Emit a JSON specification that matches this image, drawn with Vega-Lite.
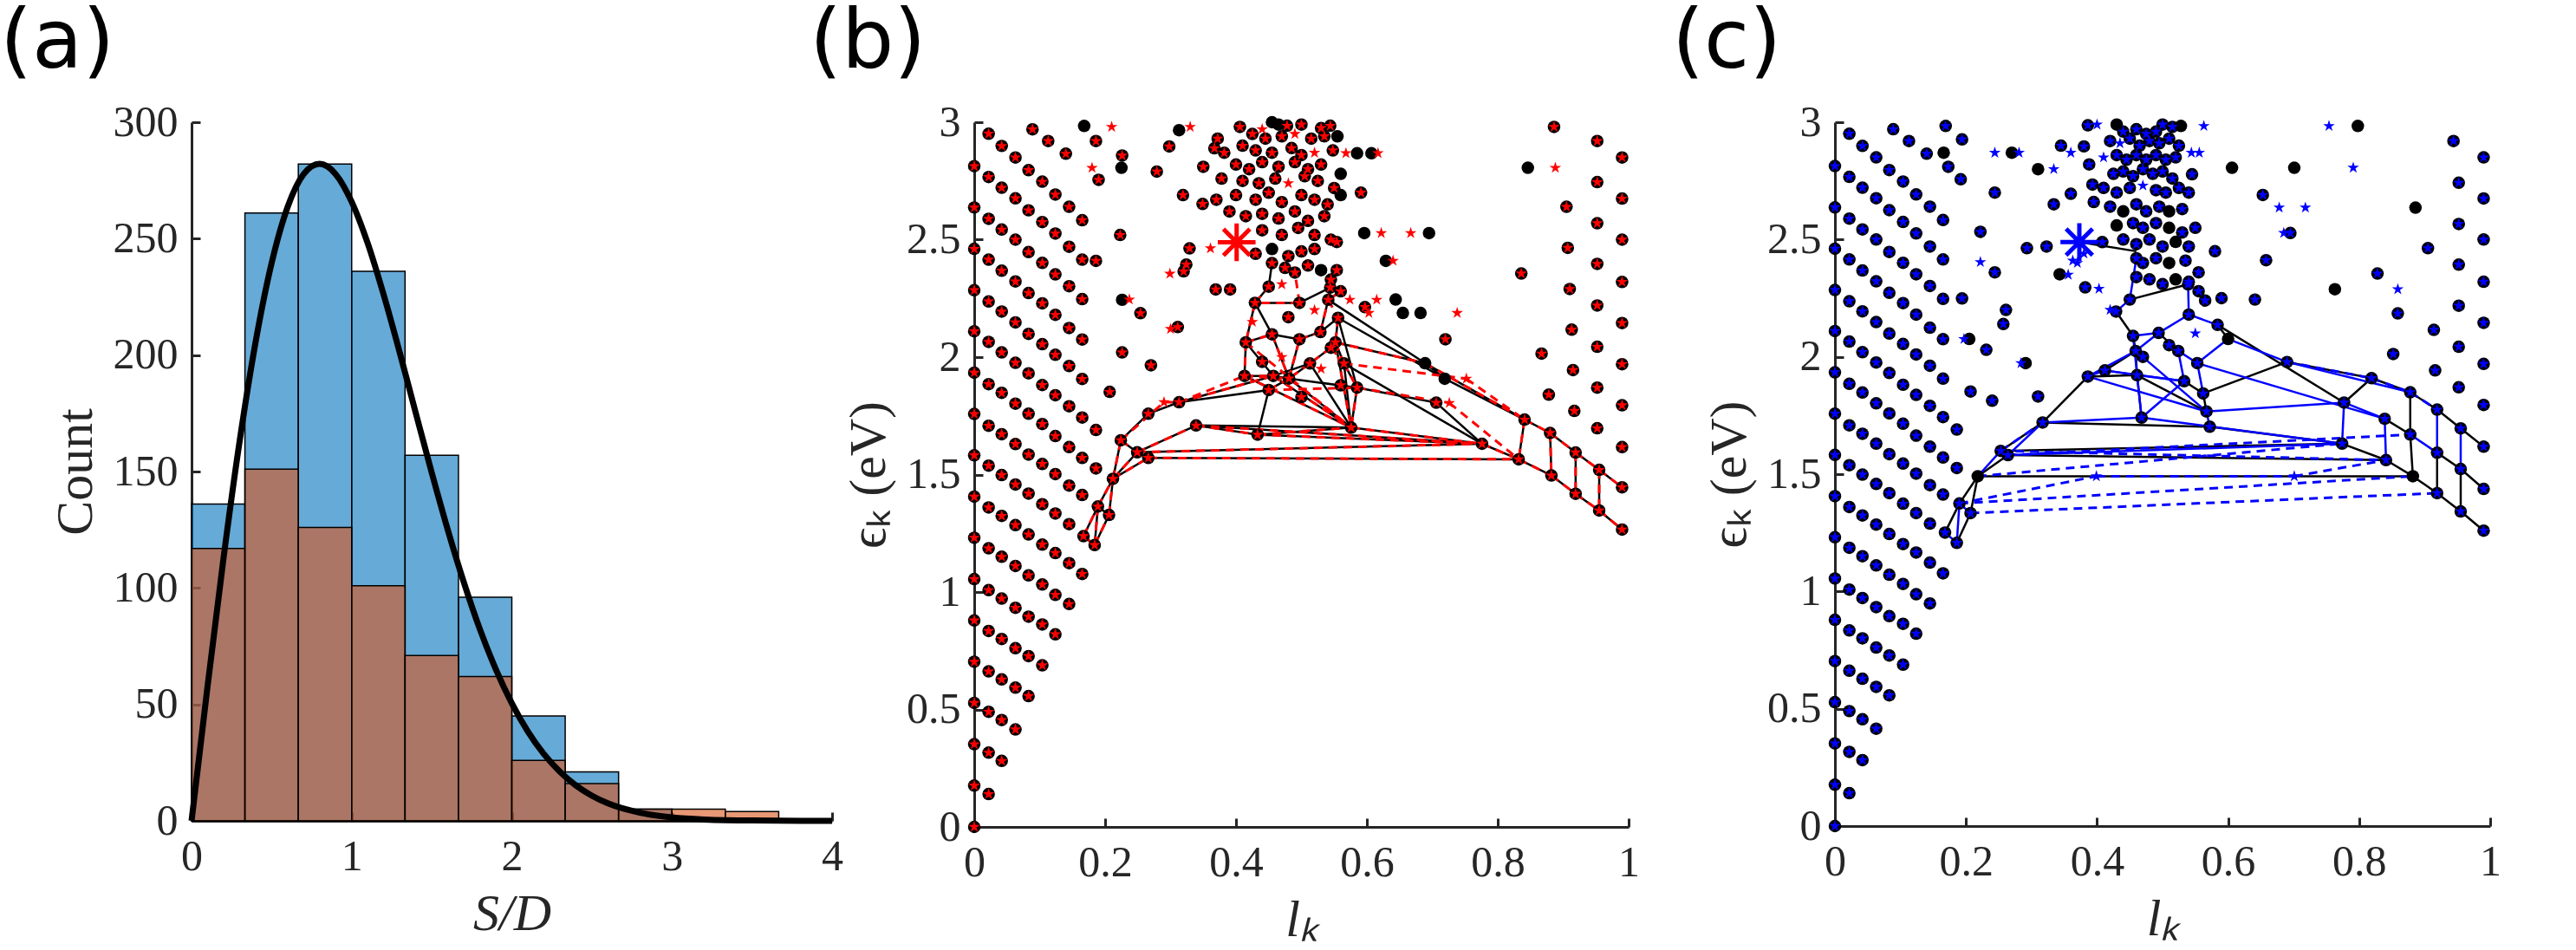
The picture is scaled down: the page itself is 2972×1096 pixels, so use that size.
{
"$schema": "https://vega.github.io/schema/vega-lite/v6.json",
"autosize": {"type": "pad"},
"padding": {"left": 0, "top": 2, "right": 0, "bottom": 0},
"spacing": -40,
"config": {
 "view": {"stroke": null},
 "axis": {"grid": false, "domainColor": "#262626", "domainWidth": 3, "tickColor": "#262626", "tickWidth": 3, "tickSize": -10, "labelPadding": 26, "labelFlush": false, "labelOverlap": false, "labelFont": "Liberation Serif", "labelFontSize": 50, "labelColor": "#262626", "titleFont": "Liberation Serif", "titleFontSize": 60, "titleFontWeight": "normal", "titleColor": "#262626", "titlePadding": 12},
 "title": {"font": "DejaVu Sans", "fontSize": 95, "fontWeight": "normal", "anchor": "start", "frame": "group", "color": "#000000", "offset": 18}
},
"datasets": {
 "hist": [
  {"lo":0,"hi":0.3333,"v":136,"g":"b"},{"lo":0.3333,"hi":0.6667,"v":261,"g":"b"},{"lo":0.6667,"hi":1,"v":282,"g":"b"},{"lo":1,"hi":1.3333,"v":236,"g":"b"},{"lo":1.3333,"hi":1.6667,"v":157,"g":"b"},{"lo":1.6667,"hi":2,"v":96,"g":"b"},{"lo":2,"hi":2.3333,"v":45,"g":"b"},{"lo":2.3333,"hi":2.6667,"v":21,"g":"b"},{"lo":2.6667,"hi":3,"v":5,"g":"b"},
  {"lo":0,"hi":0.3333,"v":117,"g":"o"},{"lo":0.3333,"hi":0.6667,"v":151,"g":"o"},{"lo":0.6667,"hi":1,"v":126,"g":"o"},{"lo":1,"hi":1.3333,"v":101,"g":"o"},{"lo":1.3333,"hi":1.6667,"v":71,"g":"o"},{"lo":1.6667,"hi":2,"v":62,"g":"o"},{"lo":2,"hi":2.3333,"v":26,"g":"o"},{"lo":2.3333,"hi":2.6667,"v":16,"g":"o"},{"lo":2.6667,"hi":3,"v":5,"g":"o"},{"lo":3,"hi":3.3333,"v":5,"g":"o"},{"lo":3.3333,"hi":3.6667,"v":4,"g":"o"}
 ],
 "curve": [
  {"lo":0,"v":0},{"lo":0.1,"v":57.8},{"lo":0.2,"v":113},{"lo":0.3,"v":162.9},{"lo":0.4,"v":205.6},{"lo":0.5,"v":239.5},{"lo":0.6,"v":263.6},{"lo":0.7,"v":277.7},{"lo":0.8,"v":282.1},{"lo":0.9,"v":277.7},{"lo":1.0,"v":265.8},{"lo":1.1,"v":248},{"lo":1.2,"v":225.8},{"lo":1.3,"v":201.1},{"lo":1.4,"v":175.2},{"lo":1.5,"v":149.5},{"lo":1.6,"v":125},{"lo":1.7,"v":102.5},{"lo":1.8,"v":82.4},{"lo":1.9,"v":65.1},{"lo":2.0,"v":50.5},{"lo":2.1,"v":38.4},{"lo":2.2,"v":28.7},{"lo":2.3,"v":21.1},{"lo":2.4,"v":15.2},{"lo":2.5,"v":10.8},{"lo":2.6,"v":7.5},{"lo":2.8,"v":3.5},{"lo":3.0,"v":1.5},{"lo":3.2,"v":0.6},{"lo":3.5,"v":0.14},{"lo":4.0,"v":0}
 ],
 "lattice": [
  {"l":0,"e":0},{"l":0,"e":0.176},{"l":0,"e":0.352},{"l":0,"e":0.528},{"l":0,"e":0.703},{"l":0,"e":0.879},{"l":0,"e":1.055},{"l":0,"e":1.231},{"l":0,"e":1.406},{"l":0,"e":1.582},{"l":0,"e":1.758},{"l":0,"e":1.934},{"l":0,"e":2.11},{"l":0,"e":2.285},{"l":0,"e":2.461},{"l":0,"e":2.637},{"l":0,"e":2.813},
  {"l":0.022,"e":0.14},
  {"l":0.022,"e":0.316},{"l":0.042,"e":0.281},
  {"l":0.022,"e":0.49},{"l":0.042,"e":0.455},{"l":0.063,"e":0.415},
  {"l":0.022,"e":0.662},{"l":0.042,"e":0.628},{"l":0.063,"e":0.593},{"l":0.083,"e":0.557},
  {"l":0.022,"e":0.834},{"l":0.042,"e":0.8},{"l":0.063,"e":0.761},{"l":0.083,"e":0.727},{"l":0.104,"e":0.688},
  {"l":0.022,"e":1.008},{"l":0.042,"e":0.972},{"l":0.063,"e":0.933},{"l":0.083,"e":0.895},{"l":0.104,"e":0.862},{"l":0.124,"e":0.82},
  {"l":0.022,"e":1.186},{"l":0.042,"e":1.15},{"l":0.063,"e":1.111},{"l":0.083,"e":1.071},{"l":0.104,"e":1.032},{"l":0.124,"e":0.988},{"l":0.145,"e":0.949},
  {"l":0.022,"e":1.36},{"l":0.042,"e":1.324},{"l":0.063,"e":1.285},{"l":0.083,"e":1.245},{"l":0.104,"e":1.202},{"l":0.124,"e":1.166},{"l":0.145,"e":1.123},{"l":0.165,"e":1.077},
  {"l":0.022,"e":1.538},{"l":0.042,"e":1.498},{"l":0.063,"e":1.458},{"l":0.083,"e":1.419},{"l":0.104,"e":1.374},{"l":0.124,"e":1.334},{"l":0.145,"e":1.289},
  {"l":0.022,"e":1.708},{"l":0.042,"e":1.672},{"l":0.063,"e":1.63},{"l":0.083,"e":1.585},{"l":0.104,"e":1.545},{"l":0.124,"e":1.502},{"l":0.145,"e":1.453},{"l":0.165,"e":1.413},
  {"l":0.022,"e":1.885},{"l":0.042,"e":1.848},{"l":0.063,"e":1.802},{"l":0.083,"e":1.759},{"l":0.104,"e":1.715},{"l":0.124,"e":1.664},{"l":0.145,"e":1.617},{"l":0.165,"e":1.571},{"l":0.186,"e":1.526},
  {"l":0.022,"e":2.065},{"l":0.042,"e":2.02},{"l":0.063,"e":1.976},{"l":0.083,"e":1.931},{"l":0.104,"e":1.881},{"l":0.124,"e":1.838},{"l":0.145,"e":1.791},{"l":0.165,"e":1.743},{"l":0.186,"e":1.69},
  {"l":0.022,"e":2.237},{"l":0.042,"e":2.194},{"l":0.063,"e":2.148},{"l":0.083,"e":2.099},{"l":0.104,"e":2.055},{"l":0.124,"e":2.01},{"l":0.145,"e":1.962},{"l":0.165,"e":1.907},{"l":0.207,"e":1.852},
  {"l":0.022,"e":2.415},{"l":0.042,"e":2.368},{"l":0.063,"e":2.322},{"l":0.083,"e":2.273},{"l":0.104,"e":2.229},{"l":0.124,"e":2.18},{"l":0.145,"e":2.124},{"l":0.165,"e":2.075},
  {"l":0.022,"e":2.589},{"l":0.042,"e":2.543},{"l":0.063,"e":2.5},{"l":0.083,"e":2.447},{"l":0.104,"e":2.401},{"l":0.124,"e":2.352},{"l":0.145,"e":2.302},{"l":0.165,"e":2.247},
  {"l":0.022,"e":2.767},{"l":0.042,"e":2.721},{"l":0.063,"e":2.676},{"l":0.083,"e":2.625},{"l":0.104,"e":2.575},{"l":0.124,"e":2.526},{"l":0.145,"e":2.47},{"l":0.165,"e":2.415},
  {"l":0.022,"e":2.951},{"l":0.042,"e":2.899},{"l":0.063,"e":2.85},{"l":0.083,"e":2.796},{"l":0.104,"e":2.747},{"l":0.124,"e":2.692},{"l":0.145,"e":2.64},{"l":0.165,"e":2.583},
  {"l":0.089,"e":2.97},{"l":0.113,"e":2.92},{"l":0.14,"e":2.866}
 ],
 "ptsB": [
  {"l":0.167,"e":1.238,"t":"b"},{"l":0.184,"e":1.2,"t":"b"},{"l":0.189,"e":1.364,"t":"b"},{"l":0.206,"e":1.328,"t":"b"},{"l":0.212,"e":1.482,"t":"b"},{"l":0.224,"e":1.646,"t":"b"},{"l":0.249,"e":1.595,"t":"b"},{"l":0.266,"e":1.571,"t":"b"},{"l":0.266,"e":1.759,"t":"b"},{"l":0.29,"e":1.808,"t":"s"},{"l":0.313,"e":1.808,"t":"b"},{"l":0.339,"e":1.709,"t":"b"},{"l":0.433,"e":1.67,"t":"b"},{"l":0.45,"e":1.86,"t":"b"},{"l":0.576,"e":1.7,"t":"b"},{"l":0.776,"e":1.631,"t":"b"},{"l":0.832,"e":1.565,"t":"b"},{"l":0.841,"e":1.734,"t":"b"},{"l":0.88,"e":1.677,"t":"b"},{"l":0.882,"e":1.496,"t":"b"},{"l":0.919,"e":1.594,"t":"b"},{"l":0.919,"e":1.418,"t":"b"},{"l":0.955,"e":1.52,"t":"b"},{"l":0.955,"e":1.347,"t":"b"},{"l":0.99,"e":1.446,"t":"b"},{"l":0.99,"e":1.266,"t":"b"},
  {"l":0.429,"e":2.231,"t":"b"},{"l":0.415,"e":2.063,"t":"b"},{"l":0.413,"e":1.92,"t":"b"},{"l":0.455,"e":2.097,"t":"b"},{"l":0.457,"e":1.92,"t":"b"},{"l":0.481,"e":1.909,"t":"b"},{"l":0.497,"e":2.076,"t":"b"},{"l":0.529,"e":2.107,"t":"b"},{"l":0.541,"e":2.244,"t":"b"},{"l":0.544,"e":2.296,"t":"b"},{"l":0.556,"e":2.167,"t":"b"},{"l":0.552,"e":2.063,"t":"b"},{"l":0.565,"e":1.973,"t":"b"},{"l":0.585,"e":1.87,"t":"b"},{"l":0.545,"e":2.04,"t":"b"},{"l":0.513,"e":1.973,"t":"b"},{"l":0.497,"e":2.231,"t":"b"},{"l":0.689,"e":1.974,"t":"d"},{"l":0.719,"e":1.908,"t":"d"},{"l":0.706,"e":1.806,"t":"b"},{"l":0.752,"e":1.908,"t":"s"},{"l":0.726,"e":1.805,"t":"s"},
  {"l":0.44,"e":1.98,"t":"b"},{"l":0.53,"e":1.95,"t":"s"},{"l":0.56,"e":1.88,"t":"b"},{"l":0.5,"e":1.83,"t":"b"},{"l":0.47,"e":2.0,"t":"s"},{"l":0.425,"e":2.15,"t":"s"},{"l":0.52,"e":2.2,"t":"s"},{"l":0.48,"e":2.17,"t":"b"},
  {"l":0.99,"e":2.85,"t":"b"},{"l":0.99,"e":2.675,"t":"b"},{"l":0.99,"e":2.5,"t":"b"},{"l":0.99,"e":2.32,"t":"b"},{"l":0.99,"e":2.145,"t":"b"},{"l":0.99,"e":1.97,"t":"b"},{"l":0.99,"e":1.795,"t":"b"},{"l":0.99,"e":1.617,"t":"b"},
  {"l":0.952,"e":2.92,"t":"b"},{"l":0.952,"e":2.745,"t":"b"},{"l":0.952,"e":2.57,"t":"b"},{"l":0.952,"e":2.397,"t":"b"},{"l":0.952,"e":2.22,"t":"b"},{"l":0.952,"e":2.044,"t":"b"},{"l":0.952,"e":1.87,"t":"b"},{"l":0.952,"e":1.697,"t":"b"},
  {"l":0.905,"e":2.64,"t":"b"},{"l":0.907,"e":2.465,"t":"b"},{"l":0.91,"e":2.29,"t":"b"},{"l":0.913,"e":2.117,"t":"b"},{"l":0.915,"e":1.945,"t":"b"},{"l":0.917,"e":1.771,"t":"b"},
  {"l":0.867,"e":2.015,"t":"b"},{"l":0.878,"e":1.84,"t":"b"},{"l":0.886,"e":2.98,"t":"b"},{"l":0.846,"e":2.806,"t":"d"},{"l":0.888,"e":2.806,"t":"s"},{"l":0.836,"e":2.356,"t":"b"},
  {"l":0.168,"e":2.984,"t":"d"},{"l":0.186,"e":2.92,"t":"b"},{"l":0.21,"e":2.98,"t":"s"},{"l":0.18,"e":2.806,"t":"s"},{"l":0.19,"e":2.755,"t":"b"},{"l":0.226,"e":2.858,"t":"b"},{"l":0.225,"e":2.806,"t":"d"},{"l":0.223,"e":2.52,"t":"b"},{"l":0.186,"e":2.41,"t":"b"},{"l":0.226,"e":2.244,"t":"d"},{"l":0.237,"e":2.245,"t":"s"},{"l":0.254,"e":2.187,"t":"b"},{"l":0.226,"e":2.02,"t":"b"},{"l":0.27,"e":1.965,"t":"b"},{"l":0.311,"e":2.128,"t":"b"},{"l":0.3,"e":2.12,"t":"s"},{"l":0.32,"e":2.365,"t":"b"},{"l":0.299,"e":2.355,"t":"s"},{"l":0.324,"e":2.394,"t":"b"},{"l":0.279,"e":2.79,"t":"b"},{"l":0.319,"e":2.69,"t":"b"},{"l":0.298,"e":2.897,"t":"b"},{"l":0.313,"e":2.966,"t":"d"},{"l":0.33,"e":2.98,"t":"s"},{"l":0.361,"e":2.463,"t":"s"},{"l":0.329,"e":2.463,"t":"b"},{"l":0.349,"e":2.652,"t":"b"},{"l":0.367,"e":2.889,"t":"b"},{"l":0.369,"e":2.288,"t":"b"},{"l":0.391,"e":2.288,"t":"b"},
  {"l":0.568,"e":2.868,"t":"s"},{"l":0.585,"e":2.868,"t":"d"},{"l":0.607,"e":2.868,"t":"d"},{"l":0.617,"e":2.868,"t":"s"},{"l":0.591,"e":2.7,"t":"b"},{"l":0.596,"e":2.528,"t":"d"},{"l":0.622,"e":2.528,"t":"s"},{"l":0.667,"e":2.528,"t":"s"},{"l":0.695,"e":2.528,"t":"d"},{"l":0.629,"e":2.41,"t":"d"},{"l":0.64,"e":2.41,"t":"s"},{"l":0.644,"e":2.245,"t":"d"},{"l":0.655,"e":2.188,"t":"d"},{"l":0.682,"e":2.188,"t":"d"},{"l":0.615,"e":2.244,"t":"s"},{"l":0.574,"e":2.244,"t":"s"},{"l":0.597,"e":2.213,"t":"b"},{"l":0.603,"e":2.188,"t":"s"},{"l":0.738,"e":2.188,"t":"s"},{"l":0.72,"e":2.076,"t":"b"},{"l":0.554,"e":2.49,"t":"b"},{"l":0.554,"e":2.37,"t":"b"},
  {"l":0.45,"e":2.3,"t":"b"},{"l":0.455,"e":2.4,"t":"b"},{"l":0.545,"e":2.33,"t":"b"},{"l":0.49,"e":2.36,"t":"b"},{"l":0.56,"e":2.28,"t":"b"},
  {"l":0.406,"e":2.98,"t":"b"},{"l":0.44,"e":2.97,"t":"s"},{"l":0.455,"e":3.0,"t":"d"},{"l":0.465,"e":2.99,"t":"d"},{"l":0.478,"e":2.985,"t":"b"},{"l":0.5,"e":2.99,"t":"b"},{"l":0.53,"e":2.975,"t":"b"},{"l":0.544,"e":2.985,"t":"b"},
  {"l":0.372,"e":2.93,"t":"b"},{"l":0.425,"e":2.95,"t":"b"},{"l":0.445,"e":2.93,"t":"b"},{"l":0.47,"e":2.94,"t":"b"},{"l":0.49,"e":2.95,"t":"s"},{"l":0.515,"e":2.93,"t":"b"},{"l":0.535,"e":2.94,"t":"b"},{"l":0.555,"e":2.94,"t":"d"},
  {"l":0.382,"e":2.87,"t":"b"},{"l":0.41,"e":2.9,"t":"b"},{"l":0.43,"e":2.88,"t":"b"},{"l":0.455,"e":2.87,"t":"b"},{"l":0.485,"e":2.89,"t":"b"},{"l":0.5,"e":2.86,"t":"b"},{"l":0.52,"e":2.87,"t":"s"},{"l":0.548,"e":2.88,"t":"b"},
  {"l":0.35,"e":2.81,"t":"b"},{"l":0.4,"e":2.82,"t":"b"},{"l":0.42,"e":2.8,"t":"b"},{"l":0.44,"e":2.83,"t":"b"},{"l":0.465,"e":2.81,"t":"b"},{"l":0.49,"e":2.83,"t":"b"},{"l":0.51,"e":2.8,"t":"b"},{"l":0.53,"e":2.82,"t":"b"},{"l":0.56,"e":2.78,"t":"d"},
  {"l":0.378,"e":2.76,"t":"b"},{"l":0.41,"e":2.75,"t":"b"},{"l":0.435,"e":2.74,"t":"b"},{"l":0.46,"e":2.76,"t":"b"},{"l":0.48,"e":2.74,"t":"s"},{"l":0.505,"e":2.77,"t":"b"},{"l":0.525,"e":2.75,"t":"b"},{"l":0.55,"e":2.72,"t":"b"},
  {"l":0.37,"e":2.67,"t":"b"},{"l":0.4,"e":2.69,"t":"b"},{"l":0.43,"e":2.67,"t":"b"},{"l":0.45,"e":2.7,"t":"b"},{"l":0.47,"e":2.66,"t":"b"},{"l":0.5,"e":2.69,"t":"b"},{"l":0.52,"e":2.67,"t":"b"},{"l":0.54,"e":2.65,"t":"b"},{"l":0.56,"e":2.69,"t":"d"},
  {"l":0.39,"e":2.62,"t":"b"},{"l":0.415,"e":2.6,"t":"b"},{"l":0.44,"e":2.61,"t":"b"},{"l":0.465,"e":2.59,"t":"b"},{"l":0.49,"e":2.62,"t":"b"},{"l":0.51,"e":2.58,"t":"b"},{"l":0.535,"e":2.6,"t":"b"},
  {"l":0.44,"e":2.54,"t":"b"},{"l":0.47,"e":2.52,"t":"b"},{"l":0.495,"e":2.55,"t":"b"},{"l":0.52,"e":2.52,"t":"b"},{"l":0.545,"e":2.5,"t":"b"},
  {"l":0.43,"e":2.44,"t":"b"},{"l":0.455,"e":2.46,"t":"d"},{"l":0.48,"e":2.43,"t":"b"},{"l":0.5,"e":2.45,"t":"b"},{"l":0.52,"e":2.46,"t":"b"},
  {"l":0.475,"e":2.38,"t":"b"},{"l":0.51,"e":2.39,"t":"b"},{"l":0.53,"e":2.37,"t":"d"},{"l":0.47,"e":2.31,"t":"s"},
  {"l":0.401,"e":2.489,"t":"a"}
 ],
 "edgesB": [
  {"l":0.167,"e":1.238,"l2":0.184,"e2":1.2,"k":"x"},{"l":0.167,"e":1.238,"l2":0.189,"e2":1.364,"k":"x"},{"l":0.184,"e":1.2,"l2":0.189,"e2":1.364,"k":"x"},{"l":0.184,"e":1.2,"l2":0.206,"e2":1.328,"k":"x"},{"l":0.189,"e":1.364,"l2":0.206,"e2":1.328,"k":"k"},{"l":0.189,"e":1.364,"l2":0.212,"e2":1.482,"k":"x"},{"l":0.206,"e":1.328,"l2":0.212,"e2":1.482,"k":"x"},{"l":0.212,"e":1.482,"l2":0.224,"e2":1.646,"k":"x"},{"l":0.212,"e":1.482,"l2":0.249,"e2":1.595,"k":"x"},{"l":0.212,"e":1.482,"l2":0.266,"e2":1.571,"k":"x"},{"l":0.224,"e":1.646,"l2":0.249,"e2":1.595,"k":"x"},{"l":0.224,"e":1.646,"l2":0.266,"e2":1.759,"k":"k"},{"l":0.266,"e":1.759,"l2":0.313,"e2":1.808,"k":"k"},{"l":0.224,"e":1.646,"l2":0.29,"e2":1.808,"k":"r"},{"l":0.29,"e":1.808,"l2":0.313,"e2":1.808,"k":"r"},{"l":0.249,"e":1.595,"l2":0.339,"e2":1.709,"k":"x"},{"l":0.266,"e":1.571,"l2":0.832,"e2":1.565,"k":"x"},{"l":0.249,"e":1.595,"l2":0.776,"e2":1.631,"k":"x"},{"l":0.339,"e":1.709,"l2":0.776,"e2":1.631,"k":"x"},{"l":0.433,"e":1.67,"l2":0.776,"e2":1.631,"k":"x"},{"l":0.339,"e":1.709,"l2":0.576,"e2":1.7,"k":"k"},{"l":0.313,"e":1.808,"l2":0.457,"e2":1.92,"k":"x"},{"l":0.313,"e":1.808,"l2":0.413,"e2":1.92,"k":"r"},{"l":0.433,"e":1.67,"l2":0.45,"e2":1.86,"k":"k"},{"l":0.45,"e":1.86,"l2":0.481,"e2":1.909,"k":"x"},
  {"l":0.413,"e":1.92,"l2":0.576,"e2":1.7,"k":"x"},{"l":0.457,"e":1.92,"l2":0.576,"e2":1.7,"k":"x"},{"l":0.481,"e":1.909,"l2":0.576,"e2":1.7,"k":"x"},{"l":0.513,"e":1.973,"l2":0.576,"e2":1.7,"k":"k"},{"l":0.552,"e":2.063,"l2":0.576,"e2":1.7,"k":"x"},{"l":0.415,"e":2.063,"l2":0.576,"e2":1.7,"k":"r"},{"l":0.585,"e":1.87,"l2":0.576,"e2":1.7,"k":"x"},{"l":0.565,"e":1.973,"l2":0.576,"e2":1.7,"k":"k"},{"l":0.576,"e":1.7,"l2":0.776,"e2":1.631,"k":"x"},
  {"l":0.429,"e":2.231,"l2":0.415,"e2":2.063,"k":"x"},{"l":0.429,"e":2.231,"l2":0.455,"e2":2.097,"k":"k"},{"l":0.415,"e":2.063,"l2":0.413,"e2":1.92,"k":"x"},{"l":0.415,"e":2.063,"l2":0.457,"e2":1.92,"k":"k"},{"l":0.413,"e":1.92,"l2":0.457,"e2":1.92,"k":"x"},{"l":0.455,"e":2.097,"l2":0.481,"e2":1.909,"k":"x"},{"l":0.455,"e":2.097,"l2":0.497,"e2":2.076,"k":"k"},{"l":0.457,"e":1.92,"l2":0.481,"e2":1.909,"k":"k"},{"l":0.481,"e":1.909,"l2":0.497,"e2":2.076,"k":"x"},{"l":0.497,"e":2.076,"l2":0.529,"e2":2.107,"k":"x"},{"l":0.529,"e":2.107,"l2":0.541,"e2":2.244,"k":"x"},{"l":0.541,"e":2.244,"l2":0.544,"e2":2.296,"k":"x"},{"l":0.529,"e":2.107,"l2":0.556,"e2":2.167,"k":"k"},{"l":0.556,"e":2.167,"l2":0.552,"e2":2.063,"k":"x"},{"l":0.552,"e":2.063,"l2":0.565,"e2":1.973,"k":"x"},{"l":0.565,"e":1.973,"l2":0.585,"e2":1.87,"k":"x"},{"l":0.545,"e":2.04,"l2":0.513,"e2":1.973,"k":"x"},{"l":0.513,"e":1.973,"l2":0.457,"e2":1.92,"k":"k"},{"l":0.415,"e":2.063,"l2":0.455,"e2":2.097,"k":"x"},{"l":0.544,"e":2.296,"l2":0.497,"e2":2.231,"k":"k"},{"l":0.497,"e":2.231,"l2":0.429,"e2":2.231,"k":"x"},{"l":0.545,"e":2.04,"l2":0.565,"e2":1.973,"k":"r"},{"l":0.556,"e":2.167,"l2":0.585,"e2":1.87,"k":"k"},{"l":0.513,"e":1.973,"l2":0.481,"e2":1.909,"k":"x"},{"l":0.541,"e":2.244,"l2":0.556,"e2":2.167,"k":"r"},{"l":0.552,"e":2.063,"l2":0.545,"e2":2.04,"k":"x"},
  {"l":0.544,"e":2.296,"l2":0.545,"e2":2.33,"k":"k"},{"l":0.429,"e":2.231,"l2":0.45,"e2":2.3,"k":"x"},{"l":0.45,"e":2.3,"l2":0.455,"e2":2.4,"k":"k"},{"l":0.497,"e":2.231,"l2":0.49,"e2":2.36,"k":"r"},{"l":0.541,"e":2.244,"l2":0.56,"e2":2.28,"k":"x"},
  {"l":0.541,"e":2.244,"l2":0.689,"e2":1.974,"k":"k"},{"l":0.689,"e":1.974,"l2":0.841,"e2":1.734,"k":"x"},{"l":0.719,"e":1.908,"l2":0.841,"e2":1.734,"k":"k"},{"l":0.752,"e":1.908,"l2":0.841,"e2":1.734,"k":"r"},{"l":0.556,"e":2.167,"l2":0.719,"e2":1.908,"k":"k"},{"l":0.565,"e":1.973,"l2":0.752,"e2":1.908,"k":"r"},{"l":0.585,"e":1.87,"l2":0.706,"e2":1.806,"k":"k"},{"l":0.585,"e":1.87,"l2":0.726,"e2":1.805,"k":"r"},{"l":0.706,"e":1.806,"l2":0.776,"e2":1.631,"k":"k"},{"l":0.726,"e":1.805,"l2":0.832,"e2":1.565,"k":"r"},{"l":0.689,"e":1.974,"l2":0.719,"e2":1.908,"k":"k"},
  {"l":0.776,"e":1.631,"l2":0.832,"e2":1.565,"k":"x"},{"l":0.841,"e":1.734,"l2":0.832,"e2":1.565,"k":"x"},{"l":0.841,"e":1.734,"l2":0.88,"e2":1.677,"k":"x"},{"l":0.88,"e":1.677,"l2":0.919,"e2":1.594,"k":"x"},{"l":0.919,"e":1.594,"l2":0.955,"e2":1.52,"k":"x"},{"l":0.955,"e":1.52,"l2":0.99,"e2":1.446,"k":"x"},{"l":0.832,"e":1.565,"l2":0.882,"e2":1.496,"k":"x"},{"l":0.882,"e":1.496,"l2":0.919,"e2":1.418,"k":"x"},{"l":0.919,"e":1.418,"l2":0.955,"e2":1.347,"k":"x"},{"l":0.955,"e":1.347,"l2":0.99,"e2":1.266,"k":"x"},{"l":0.88,"e":1.677,"l2":0.882,"e2":1.496,"k":"x"},{"l":0.919,"e":1.594,"l2":0.919,"e2":1.418,"k":"x"},{"l":0.955,"e":1.52,"l2":0.955,"e2":1.347,"k":"x"},
  {"l":0.339,"e":1.709,"l2":0.433,"e2":1.67,"k":"x"},{"l":0.433,"e":1.67,"l2":0.576,"e2":1.7,"k":"x"},{"l":0.249,"e":1.595,"l2":0.266,"e2":1.571,"k":"x"},{"l":0.45,"e":1.86,"l2":0.585,"e2":1.87,"k":"r"},{"l":0.481,"e":1.909,"l2":0.585,"e2":1.87,"k":"k"},{"l":0.413,"e":1.92,"l2":0.481,"e2":1.909,"k":"r"},{"l":0.313,"e":1.808,"l2":0.45,"e2":1.86,"k":"k"},{"l":0.552,"e":2.063,"l2":0.689,"e2":1.974,"k":"x"},{"l":0.565,"e":1.973,"l2":0.776,"e2":1.631,"k":"k"}
 ],
 "ptsC": [
  {"l":0.168,"e":1.251,"t":"b"},{"l":0.186,"e":1.207,"t":"b"},{"l":0.19,"e":1.375,"t":"b"},{"l":0.207,"e":1.334,"t":"b"},{"l":0.218,"e":1.491,"t":"d"},{"l":0.253,"e":1.599,"t":"b"},{"l":0.264,"e":1.581,"t":"b"},{"l":0.317,"e":1.72,"t":"b"},{"l":0.468,"e":1.741,"t":"b"},{"l":0.572,"e":1.702,"t":"b"},{"l":0.774,"e":1.63,"t":"b"},{"l":0.841,"e":1.56,"t":"b"},{"l":0.882,"e":1.491,"t":"d"},{"l":0.839,"e":1.736,"t":"b"},{"l":0.819,"e":1.909,"t":"b"},{"l":0.777,"e":1.805,"t":"b"},{"l":0.69,"e":1.978,"t":"b"},{"l":0.878,"e":1.849,"t":"b"},{"l":0.878,"e":1.669,"t":"b"},{"l":0.919,"e":1.775,"t":"b"},{"l":0.919,"e":1.591,"t":"b"},{"l":0.919,"e":1.419,"t":"b"},{"l":0.955,"e":1.695,"t":"b"},{"l":0.955,"e":1.522,"t":"b"},{"l":0.955,"e":1.341,"t":"b"},{"l":0.99,"e":1.617,"t":"b"},{"l":0.99,"e":1.437,"t":"b"},{"l":0.99,"e":1.259,"t":"b"},{"l":0.399,"e":1.491,"t":"s"},{"l":0.701,"e":1.491,"t":"s"},
  {"l":0.386,"e":1.916,"t":"b"},{"l":0.412,"e":1.942,"t":"b"},{"l":0.459,"e":2.025,"t":"b"},{"l":0.461,"e":1.922,"t":"b"},{"l":0.494,"e":2.102,"t":"b"},{"l":0.524,"e":2.025,"t":"b"},{"l":0.54,"e":2.18,"t":"b"},{"l":0.533,"e":1.896,"t":"b"},{"l":0.553,"e":1.973,"t":"b"},{"l":0.562,"e":1.844,"t":"b"},{"l":0.567,"e":1.767,"t":"b"},{"l":0.584,"e":2.136,"t":"b"},{"l":0.6,"e":2.076,"t":"d"},{"l":0.429,"e":2.193,"t":"b"},{"l":0.455,"e":2.089,"t":"b"},{"l":0.45,"e":2.244,"t":"b"},{"l":0.539,"e":2.309,"t":"b"},{"l":0.42,"e":2.2,"t":"s"},{"l":0.51,"e":2.05,"t":"b"},{"l":0.55,"e":2.1,"t":"s"},{"l":0.47,"e":2.0,"t":"b"},
  {"l":0.99,"e":2.85,"t":"b"},{"l":0.99,"e":2.675,"t":"b"},{"l":0.99,"e":2.5,"t":"b"},{"l":0.99,"e":2.32,"t":"b"},{"l":0.99,"e":2.145,"t":"b"},{"l":0.99,"e":1.97,"t":"b"},{"l":0.99,"e":1.795,"t":"b"},
  {"l":0.944,"e":2.92,"t":"b"},{"l":0.952,"e":2.742,"t":"b"},{"l":0.952,"e":2.566,"t":"b"},{"l":0.952,"e":2.393,"t":"b"},{"l":0.952,"e":2.218,"t":"b"},{"l":0.952,"e":2.043,"t":"b"},{"l":0.952,"e":1.87,"t":"b"},
  {"l":0.914,"e":2.115,"t":"b"},{"l":0.916,"e":1.942,"t":"b"},{"l":0.905,"e":2.463,"t":"b"},
  {"l":0.169,"e":2.984,"t":"b"},{"l":0.194,"e":2.927,"t":"b"},{"l":0.166,"e":2.87,"t":"d"},{"l":0.173,"e":2.81,"t":"b"},{"l":0.192,"e":2.757,"t":"b"},{"l":0.194,"e":2.249,"t":"b"},{"l":0.197,"e":2.076,"t":"s"},{"l":0.205,"e":2.076,"t":"d"},{"l":0.231,"e":2.03,"t":"b"},{"l":0.222,"e":2.533,"t":"b"},{"l":0.222,"e":2.404,"t":"s"},{"l":0.244,"e":2.36,"t":"b"},{"l":0.244,"e":2.7,"t":"b"},{"l":0.244,"e":2.87,"t":"s"},{"l":0.27,"e":2.87,"t":"d"},{"l":0.281,"e":2.87,"t":"s"},{"l":0.261,"e":2.2,"t":"b"},{"l":0.257,"e":2.14,"t":"b"},{"l":0.24,"e":1.813,"t":"b"},{"l":0.291,"e":1.973,"t":"d"},{"l":0.284,"e":1.973,"t":"s"},{"l":0.31,"e":1.831,"t":"b"},{"l":0.31,"e":2.8,"t":"d"},{"l":0.334,"e":2.8,"t":"s"},{"l":0.293,"e":2.463,"t":"b"},{"l":0.323,"e":2.47,"t":"b"},{"l":0.334,"e":2.65,"t":"b"},{"l":0.343,"e":2.352,"t":"d"},{"l":0.356,"e":2.35,"t":"s"},{"l":0.363,"e":2.41,"t":"s"},{"l":0.345,"e":2.9,"t":"b"},{"l":0.36,"e":2.87,"t":"s"},{"l":0.36,"e":2.695,"t":"b"},{"l":0.38,"e":2.897,"t":"b"},{"l":0.386,"e":2.987,"t":"b"},{"l":0.388,"e":2.82,"t":"b"},{"l":0.382,"e":2.296,"t":"b"},{"l":0.403,"e":2.29,"t":"s"},{"l":0.408,"e":2.489,"t":"b"},{"l":0.393,"e":2.734,"t":"b"},{"l":0.395,"e":2.66,"t":"b"},{"l":0.38,"e":2.44,"t":"s"},{"l":0.37,"e":2.4,"t":"s"},
  {"l":0.606,"e":2.806,"t":"d"},{"l":0.701,"e":2.806,"t":"d"},{"l":0.653,"e":2.69,"t":"b"},{"l":0.678,"e":2.636,"t":"s"},{"l":0.718,"e":2.636,"t":"s"},{"l":0.695,"e":2.528,"t":"b"},{"l":0.685,"e":2.528,"t":"s"},{"l":0.658,"e":2.412,"t":"b"},{"l":0.641,"e":2.244,"t":"b"},{"l":0.754,"e":2.984,"t":"s"},{"l":0.798,"e":2.984,"t":"d"},{"l":0.791,"e":2.806,"t":"s"},{"l":0.763,"e":2.288,"t":"d"},{"l":0.828,"e":2.355,"t":"b"},{"l":0.859,"e":2.288,"t":"s"},{"l":0.859,"e":2.185,"t":"b"},{"l":0.852,"e":2.012,"t":"b"},{"l":0.886,"e":2.636,"t":"d"},{"l":0.58,"e":2.45,"t":"b"},
  {"l":0.4,"e":2.99,"t":"s"},{"l":0.43,"e":2.99,"t":"d"},{"l":0.44,"e":2.96,"t":"b"},{"l":0.46,"e":2.97,"t":"b"},{"l":0.475,"e":2.95,"t":"b"},{"l":0.49,"e":2.96,"t":"b"},{"l":0.5,"e":2.99,"t":"b"},{"l":0.515,"e":2.98,"t":"b"},{"l":0.528,"e":2.984,"t":"d"},{"l":0.563,"e":2.984,"t":"s"},
  {"l":0.42,"e":2.92,"t":"b"},{"l":0.435,"e":2.91,"t":"s"},{"l":0.45,"e":2.93,"t":"b"},{"l":0.465,"e":2.9,"t":"b"},{"l":0.48,"e":2.92,"t":"b"},{"l":0.495,"e":2.91,"t":"b"},{"l":0.51,"e":2.93,"t":"b"},{"l":0.525,"e":2.9,"t":"b"},{"l":0.544,"e":2.87,"t":"s"},{"l":0.556,"e":2.87,"t":"s"},
  {"l":0.41,"e":2.85,"t":"s"},{"l":0.43,"e":2.86,"t":"b"},{"l":0.445,"e":2.84,"t":"b"},{"l":0.46,"e":2.86,"t":"b"},{"l":0.475,"e":2.84,"t":"b"},{"l":0.49,"e":2.86,"t":"b"},{"l":0.505,"e":2.84,"t":"b"},{"l":0.52,"e":2.85,"t":"b"},{"l":0.545,"e":2.778,"t":"b"},
  {"l":0.425,"e":2.78,"t":"b"},{"l":0.44,"e":2.79,"t":"b"},{"l":0.455,"e":2.77,"t":"b"},{"l":0.47,"e":2.8,"t":"b"},{"l":0.485,"e":2.78,"t":"b"},{"l":0.5,"e":2.79,"t":"b"},{"l":0.515,"e":2.76,"t":"b"},
  {"l":0.41,"e":2.72,"t":"b"},{"l":0.43,"e":2.7,"t":"b"},{"l":0.45,"e":2.72,"t":"b"},{"l":0.47,"e":2.73,"t":"s"},{"l":0.49,"e":2.71,"t":"b"},{"l":0.505,"e":2.7,"t":"b"},{"l":0.525,"e":2.72,"t":"b"},{"l":0.54,"e":2.7,"t":"b"},
  {"l":0.42,"e":2.64,"t":"b"},{"l":0.44,"e":2.62,"t":"d"},{"l":0.46,"e":2.65,"t":"b"},{"l":0.475,"e":2.62,"t":"b"},{"l":0.495,"e":2.64,"t":"b"},{"l":0.51,"e":2.62,"t":"d"},{"l":0.53,"e":2.63,"t":"b"},
  {"l":0.43,"e":2.56,"t":"d"},{"l":0.455,"e":2.57,"t":"b"},{"l":0.47,"e":2.55,"t":"b"},{"l":0.49,"e":2.57,"t":"b"},{"l":0.51,"e":2.55,"t":"d"},{"l":0.53,"e":2.53,"t":"b"},{"l":0.55,"e":2.55,"t":"b"},
  {"l":0.44,"e":2.5,"t":"b"},{"l":0.46,"e":2.48,"t":"b"},{"l":0.48,"e":2.5,"t":"b"},{"l":0.5,"e":2.47,"t":"b"},{"l":0.52,"e":2.49,"t":"d"},{"l":0.54,"e":2.47,"t":"b"},
  {"l":0.46,"e":2.42,"t":"b"},{"l":0.47,"e":2.4,"t":"b"},{"l":0.49,"e":2.42,"t":"b"},{"l":0.51,"e":2.4,"t":"d"},{"l":0.535,"e":2.41,"t":"b"},{"l":0.555,"e":2.36,"t":"b"},
  {"l":0.46,"e":2.34,"t":"b"},{"l":0.48,"e":2.33,"t":"b"},{"l":0.5,"e":2.31,"t":"b"},{"l":0.52,"e":2.33,"t":"d"},{"l":0.54,"e":2.32,"t":"b"},{"l":0.555,"e":2.28,"t":"b"},{"l":0.565,"e":2.24,"t":"b"},{"l":0.59,"e":2.25,"t":"b"},
  {"l":0.373,"e":2.489,"t":"a"}
 ],
 "edgesC": [
  {"l":0.168,"e":1.251,"l2":0.186,"e2":1.207,"k":"b"},{"l":0.168,"e":1.251,"l2":0.19,"e2":1.375,"k":"k"},{"l":0.186,"e":1.207,"l2":0.19,"e2":1.375,"k":"b"},{"l":0.186,"e":1.207,"l2":0.207,"e2":1.334,"k":"k"},{"l":0.19,"e":1.375,"l2":0.207,"e2":1.334,"k":"b"},{"l":0.19,"e":1.375,"l2":0.218,"e2":1.491,"k":"k"},{"l":0.207,"e":1.334,"l2":0.218,"e2":1.491,"k":"k"},{"l":0.218,"e":1.491,"l2":0.253,"e2":1.599,"k":"b"},{"l":0.218,"e":1.491,"l2":0.264,"e2":1.581,"k":"k"},{"l":0.253,"e":1.599,"l2":0.264,"e2":1.581,"k":"b"},{"l":0.253,"e":1.599,"l2":0.317,"e2":1.72,"k":"x"},{"l":0.264,"e":1.581,"l2":0.317,"e2":1.72,"k":"b"},
  {"l":0.218,"e":1.491,"l2":0.882,"e2":1.491,"k":"k"},{"l":0.253,"e":1.599,"l2":0.774,"e2":1.63,"k":"k"},{"l":0.264,"e":1.581,"l2":0.774,"e2":1.63,"k":"b"},{"l":0.264,"e":1.581,"l2":0.841,"e2":1.56,"k":"k"},{"l":0.317,"e":1.72,"l2":0.572,"e2":1.702,"k":"k"},{"l":0.317,"e":1.72,"l2":0.468,"e2":1.741,"k":"b"},{"l":0.468,"e":1.741,"l2":0.774,"e2":1.63,"k":"b"},{"l":0.572,"e":1.702,"l2":0.774,"e2":1.63,"k":"k"},
  {"l":0.19,"e":1.375,"l2":0.399,"e2":1.491,"k":"d"},{"l":0.399,"e":1.491,"l2":0.701,"e2":1.491,"k":"d"},{"l":0.701,"e":1.491,"l2":0.841,"e2":1.56,"k":"d"},{"l":0.207,"e":1.334,"l2":0.919,"e2":1.419,"k":"d"},{"l":0.19,"e":1.375,"l2":0.882,"e2":1.491,"k":"d"},{"l":0.264,"e":1.581,"l2":0.878,"e2":1.669,"k":"d"},{"l":0.253,"e":1.599,"l2":0.841,"e2":1.56,"k":"d"},{"l":0.218,"e":1.491,"l2":0.774,"e2":1.63,"k":"d"},
  {"l":0.819,"e":1.909,"l2":0.878,"e2":1.849,"k":"x"},{"l":0.878,"e":1.849,"l2":0.919,"e2":1.775,"k":"x"},{"l":0.919,"e":1.775,"l2":0.955,"e2":1.695,"k":"k"},{"l":0.955,"e":1.695,"l2":0.99,"e2":1.617,"k":"k"},{"l":0.777,"e":1.805,"l2":0.839,"e2":1.736,"k":"b"},{"l":0.839,"e":1.736,"l2":0.878,"e2":1.669,"k":"k"},{"l":0.878,"e":1.669,"l2":0.919,"e2":1.591,"k":"b"},{"l":0.919,"e":1.591,"l2":0.955,"e2":1.522,"k":"k"},{"l":0.955,"e":1.522,"l2":0.99,"e2":1.437,"k":"k"},{"l":0.774,"e":1.63,"l2":0.841,"e2":1.56,"k":"k"},{"l":0.841,"e":1.56,"l2":0.882,"e2":1.491,"k":"k"},{"l":0.882,"e":1.491,"l2":0.919,"e2":1.419,"k":"k"},{"l":0.919,"e":1.419,"l2":0.955,"e2":1.341,"k":"k"},{"l":0.955,"e":1.341,"l2":0.99,"e2":1.259,"k":"k"},
  {"l":0.777,"e":1.805,"l2":0.774,"e2":1.63,"k":"b"},{"l":0.839,"e":1.736,"l2":0.841,"e2":1.56,"k":"b"},{"l":0.878,"e":1.849,"l2":0.878,"e2":1.669,"k":"k"},{"l":0.878,"e":1.669,"l2":0.882,"e2":1.491,"k":"k"},{"l":0.919,"e":1.775,"l2":0.919,"e2":1.591,"k":"b"},{"l":0.919,"e":1.591,"l2":0.919,"e2":1.419,"k":"k"},{"l":0.955,"e":1.522,"l2":0.955,"e2":1.341,"k":"k"},{"l":0.955,"e":1.695,"l2":0.955,"e2":1.522,"k":"b"},
  {"l":0.69,"e":1.978,"l2":0.819,"e2":1.909,"k":"x"},{"l":0.562,"e":1.844,"l2":0.69,"e2":1.978,"k":"k"},{"l":0.6,"e":2.076,"l2":0.69,"e2":1.978,"k":"b"},{"l":0.567,"e":1.767,"l2":0.777,"e2":1.805,"k":"b"},{"l":0.584,"e":2.136,"l2":0.777,"e2":1.805,"k":"k"},{"l":0.69,"e":1.978,"l2":0.878,"e2":1.849,"k":"b"},{"l":0.553,"e":1.973,"l2":0.839,"e2":1.736,"k":"b"},{"l":0.819,"e":1.909,"l2":0.777,"e2":1.805,"k":"k"},
  {"l":0.386,"e":1.916,"l2":0.412,"e2":1.942,"k":"b"},{"l":0.386,"e":1.916,"l2":0.459,"e2":2.025,"k":"b"},{"l":0.386,"e":1.916,"l2":0.461,"e2":1.922,"k":"k"},{"l":0.412,"e":1.942,"l2":0.459,"e2":2.025,"k":"k"},{"l":0.412,"e":1.942,"l2":0.461,"e2":1.922,"k":"b"},{"l":0.459,"e":2.025,"l2":0.461,"e2":1.922,"k":"k"},{"l":0.459,"e":2.025,"l2":0.494,"e2":2.102,"k":"b"},{"l":0.461,"e":1.922,"l2":0.533,"e2":1.896,"k":"b"},{"l":0.459,"e":2.025,"l2":0.455,"e2":2.089,"k":"k"},{"l":0.455,"e":2.089,"l2":0.494,"e2":2.102,"k":"b"},{"l":0.494,"e":2.102,"l2":0.524,"e2":2.025,"k":"k"},{"l":0.494,"e":2.102,"l2":0.54,"e2":2.18,"k":"b"},{"l":0.524,"e":2.025,"l2":0.553,"e2":1.973,"k":"b"},{"l":0.54,"e":2.18,"l2":0.584,"e2":2.136,"k":"b"},{"l":0.584,"e":2.136,"l2":0.6,"e2":2.076,"k":"k"},{"l":0.553,"e":1.973,"l2":0.562,"e2":1.844,"k":"b"},{"l":0.562,"e":1.844,"l2":0.567,"e2":1.767,"k":"k"},{"l":0.567,"e":1.767,"l2":0.572,"e2":1.702,"k":"b"},{"l":0.533,"e":1.896,"l2":0.562,"e2":1.844,"k":"k"},{"l":0.524,"e":2.025,"l2":0.533,"e2":1.896,"k":"b"},{"l":0.461,"e":1.922,"l2":0.567,"e2":1.767,"k":"k"},{"l":0.459,"e":2.025,"l2":0.567,"e2":1.767,"k":"b"},{"l":0.553,"e":1.973,"l2":0.6,"e2":2.076,"k":"b"},{"l":0.429,"e":2.193,"l2":0.45,"e2":2.244,"k":"b"},{"l":0.429,"e":2.193,"l2":0.455,"e2":2.089,"k":"k"},{"l":0.45,"e":2.244,"l2":0.539,"e2":2.309,"k":"k"},{"l":0.539,"e":2.309,"l2":0.54,"e2":2.18,"k":"b"},{"l":0.468,"e":1.741,"l2":0.533,"e2":1.896,"k":"b"},{"l":0.468,"e":1.741,"l2":0.461,"e2":1.922,"k":"k"},{"l":0.386,"e":1.916,"l2":0.567,"e2":1.767,"k":"b"},{"l":0.412,"e":1.942,"l2":0.533,"e2":1.896,"k":"b"},{"l":0.45,"e":2.244,"l2":0.46,"e2":2.42,"k":"b"},{"l":0.539,"e":2.309,"l2":0.54,"e2":2.32,"k":"k"},{"l":0.429,"e":2.193,"l2":0.42,"e2":2.2,"k":"b"},{"l":0.468,"e":1.741,"l2":0.455,"e2":2.089,"k":"b"},{"l":0.386,"e":1.916,"l2":0.317,"e2":1.72,"k":"k"},{"l":0.373,"e":2.489,"l2":0.46,"e2":2.45,"k":"k"}
 ]
},
"hconcat": [
 {
  "title": {"text": "(a)", "dx": -221},
  "width": 739, "height": 806,
  "encoding": {
   "x": {"field": "lo", "type": "quantitative", "scale": {"domain": [0, 4], "nice": false, "zero": false}, "axis": {"values": [0, 1, 2, 3, 4], "format": "d", "titleFontStyle": "italic"}, "title": "S/D"},
   "y": {"field": "v", "type": "quantitative", "scale": {"domain": [0, 300], "nice": false}, "axis": {"values": [0, 50, 100, 150, 200, 250, 300], "format": "d"}, "title": "Count"}
  },
  "layer": [
   {"data": {"name": "hist"}, "transform": [{"filter": "datum.g == 'b'"}], "mark": {"type": "rect", "fill": "#0072BD", "fillOpacity": 0.6, "stroke": "#000000", "strokeWidth": 1.5}, "encoding": {"x2": {"field": "hi"}, "y2": {"datum": 0}}},
   {"data": {"name": "hist"}, "transform": [{"filter": "datum.g == 'o'"}], "mark": {"type": "rect", "fill": "#D95319", "fillOpacity": 0.6, "stroke": "#000000", "strokeWidth": 1.5}, "encoding": {"x2": {"field": "hi"}, "y2": {"datum": 0}}},
   {"data": {"name": "curve"}, "mark": {"type": "line", "color": "#000000", "strokeWidth": 7, "interpolate": "monotone"}, "encoding": {}}
  ]
 },
 {
  "title": {"text": "(b)", "dx": -190},
  "width": 755, "height": 813,
  "encoding": {
   "x": {"field": "l", "type": "quantitative", "scale": {"domain": [0, 1], "nice": false, "zero": false}, "axis": {"values": [0, 0.2, 0.4, 0.6, 0.8, 1], "format": "~g", "titleFontStyle": "italic"}, "title": "lₖ"},
   "y": {"field": "e", "type": "quantitative", "scale": {"domain": [0, 3], "nice": false}, "axis": {"values": [0, 0.5, 1, 1.5, 2, 2.5, 3], "format": "~g"}, "title": "ϵₖ (eV)"}
  },
  "layer": [
   {"data": {"name": "edgesB"}, "transform": [{"filter": "datum.k != 'r'"}], "mark": {"type": "rule", "color": "#000000", "strokeWidth": 2.5}, "encoding": {"x2": {"field": "l2"}, "y2": {"field": "e2"}}},
   {"data": {"name": "edgesB"}, "transform": [{"filter": "datum.k != 'k'"}], "mark": {"type": "rule", "color": "#FF0000", "strokeWidth": 3, "strokeDash": [10, 7]}, "encoding": {"x2": {"field": "l2"}, "y2": {"field": "e2"}}},
   {"data": {"name": "ptsB"}, "transform": [{"filter": "datum.t == 'b' || datum.t == 'd'"}], "mark": {"type": "point", "shape": "circle", "filled": true, "color": "#000000", "size": 210, "opacity": 1}, "encoding": {}},
   {"data": {"name": "lattice"}, "mark": {"type": "point", "shape": "circle", "filled": true, "color": "#000000", "size": 210, "opacity": 1}, "encoding": {}},
   {"data": {"name": "lattice"}, "mark": {"type": "point", "shape": "M0,-1L0.225,-0.309L0.951,-0.309L0.363,0.118L0.588,0.809L0,0.382L-0.588,0.809L-0.363,0.118L-0.951,-0.309L-0.225,-0.309Z", "filled": true, "color": "#FF0000", "size": 200, "opacity": 1}, "encoding": {}},
   {"data": {"name": "ptsB"}, "transform": [{"filter": "datum.t == 'b' || datum.t == 's'"}], "mark": {"type": "point", "shape": "M0,-1L0.225,-0.309L0.951,-0.309L0.363,0.118L0.588,0.809L0,0.382L-0.588,0.809L-0.363,0.118L-0.951,-0.309L-0.225,-0.309Z", "filled": true, "color": "#FF0000", "size": 200, "opacity": 1}, "encoding": {}},
   {"data": {"name": "ptsB"}, "transform": [{"filter": "datum.t == 'a'"}], "mark": {"type": "point", "shape": "M-1,0L1,0M0,-1L0,1M-0.7,-0.7L0.7,0.7M-0.7,0.7L0.7,-0.7", "filled": false, "color": "#FF0000", "strokeWidth": 5, "size": 1900, "opacity": 1}, "encoding": {}}
  ]
 },
 {
  "width": 77, "height": 10,
  "data": {"values": [{"z": 1}]},
  "mark": {"type": "point", "opacity": 0},
  "encoding": {}
 },
 {
  "title": {"text": "(c)", "dx": -188},
  "width": 756, "height": 812,
  "encoding": {
   "x": {"field": "l", "type": "quantitative", "scale": {"domain": [0, 1], "nice": false, "zero": false}, "axis": {"values": [0, 0.2, 0.4, 0.6, 0.8, 1], "format": "~g", "titleFontStyle": "italic"}, "title": "lₖ"},
   "y": {"field": "e", "type": "quantitative", "scale": {"domain": [0, 3], "nice": false}, "axis": {"values": [0, 0.5, 1, 1.5, 2, 2.5, 3], "format": "~g"}, "title": "ϵₖ (eV)"}
  },
  "layer": [
   {"data": {"name": "edgesC"}, "transform": [{"filter": "datum.k == 'k' || datum.k == 'x'"}], "mark": {"type": "rule", "color": "#000000", "strokeWidth": 2.5}, "encoding": {"x2": {"field": "l2"}, "y2": {"field": "e2"}}},
   {"data": {"name": "edgesC"}, "transform": [{"filter": "datum.k == 'b'"}], "mark": {"type": "rule", "color": "#0000FF", "strokeWidth": 2.5}, "encoding": {"x2": {"field": "l2"}, "y2": {"field": "e2"}}},
   {"data": {"name": "edgesC"}, "transform": [{"filter": "datum.k == 'd' || datum.k == 'x'"}], "mark": {"type": "rule", "color": "#0000FF", "strokeWidth": 3, "strokeDash": [10, 7]}, "encoding": {"x2": {"field": "l2"}, "y2": {"field": "e2"}}},
   {"data": {"name": "ptsC"}, "transform": [{"filter": "datum.t == 'b' || datum.t == 'd'"}], "mark": {"type": "point", "shape": "circle", "filled": true, "color": "#000000", "size": 210, "opacity": 1}, "encoding": {}},
   {"data": {"name": "lattice"}, "mark": {"type": "point", "shape": "circle", "filled": true, "color": "#000000", "size": 210, "opacity": 1}, "encoding": {}},
   {"data": {"name": "lattice"}, "mark": {"type": "point", "shape": "M0,-1L0.225,-0.309L0.951,-0.309L0.363,0.118L0.588,0.809L0,0.382L-0.588,0.809L-0.363,0.118L-0.951,-0.309L-0.225,-0.309Z", "filled": true, "color": "#0000FF", "size": 200, "opacity": 1}, "encoding": {}},
   {"data": {"name": "ptsC"}, "transform": [{"filter": "datum.t == 'b' || datum.t == 's'"}], "mark": {"type": "point", "shape": "M0,-1L0.225,-0.309L0.951,-0.309L0.363,0.118L0.588,0.809L0,0.382L-0.588,0.809L-0.363,0.118L-0.951,-0.309L-0.225,-0.309Z", "filled": true, "color": "#0000FF", "size": 200, "opacity": 1}, "encoding": {}},
   {"data": {"name": "ptsC"}, "transform": [{"filter": "datum.t == 'a'"}], "mark": {"type": "point", "shape": "M-1,0L1,0M0,-1L0,1M-0.7,-0.7L0.7,0.7M-0.7,0.7L0.7,-0.7", "filled": false, "color": "#0000FF", "strokeWidth": 5, "size": 1900, "opacity": 1}, "encoding": {}}
  ]
 }
]
}
